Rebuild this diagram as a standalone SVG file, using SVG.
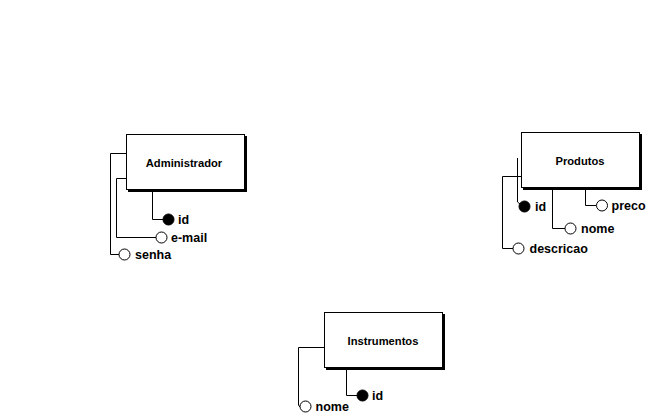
<svg xmlns="http://www.w3.org/2000/svg" width="655" height="419" viewBox="0 0 655 419">
<style>
.box{fill:#fff;stroke:#000;stroke-width:1}
.sh{fill:#000}
.t{font-family:"Liberation Sans",Arial,sans-serif;font-weight:bold;font-size:11.2px;fill:#000}
.a{font-size:12.5px}
.c{text-anchor:middle}
.ln{fill:none;stroke:#000;stroke-width:1}
.o{fill:#fff;stroke:#000;stroke-width:1}
.f{fill:#000;stroke:#000;stroke-width:1}
</style>
<rect width="655" height="419" fill="#fff"/>
<g id="connectors">
<polyline class="ln" points="152.5,190 152.5,219.5 163,219.5"/>
<polyline class="ln" points="126,178.5 116.5,178.5 116.5,237.5 156,237.5"/>
<polyline class="ln" points="126,153.5 110.5,153.5 110.5,254.5 119,254.5"/>
<polyline class="ln" points="517.5,158 517.5,202 520,204"/>
<polyline class="ln" points="552.5,188 552.5,228.5 565,228.5"/>
<polyline class="ln" points="585.5,188 585.5,205.5 596,205.5"/>
<polyline class="ln" points="521,176.5 502.5,176.5 502.5,248.5 513,248.5"/>
<polyline class="ln" points="346.5,368 346.5,395.5 357,395.5"/>
<polyline class="ln" points="324,347.5 298.5,347.5 298.5,405 300,407"/>
</g>
<g id="administrador">
<rect class="sh" x="128" y="136" width="119" height="56"/>
<rect class="box" x="126.5" y="134.5" width="118" height="55"/>
<text class="t c" x="184" y="167">Administrador</text>
</g>
<g id="administrador-id">
<circle class="f" cx="168.5" cy="219.5" r="5.5"/>
<text class="t a" x="178" y="224">id</text>
</g>
<g id="administrador-email">
<circle class="o" cx="161.5" cy="237.5" r="5.5"/>
<text class="t a" x="171" y="242">e-mail</text>
</g>
<g id="administrador-senha">
<circle class="o" cx="124.5" cy="254.5" r="5.5"/>
<text class="t a" x="135" y="259">senha</text>
</g>
<g id="produtos">
<rect class="sh" x="523" y="134" width="119" height="56"/>
<rect class="box" x="521.5" y="132.5" width="118" height="55"/>
<text class="t c" x="580" y="165">Produtos</text>
</g>
<g id="produtos-id">
<circle class="f" cx="524.5" cy="206.5" r="5.5"/>
<text class="t a" x="535" y="211">id</text>
</g>
<g id="produtos-nome">
<circle class="o" cx="570.5" cy="228.5" r="5.5"/>
<text class="t a" x="581" y="233">nome</text>
</g>
<g id="produtos-preco">
<circle class="o" cx="602" cy="205.5" r="5.5"/>
<text class="t a" x="611.5" y="210">preco</text>
</g>
<g id="produtos-descricao">
<circle class="o" cx="518.5" cy="248.5" r="5.5"/>
<text class="t a" x="529.5" y="253">descricao</text>
</g>
<g id="instrumentos">
<rect class="sh" x="326" y="314" width="119" height="56"/>
<rect class="box" x="324.5" y="312.5" width="118" height="55"/>
<text class="t c" x="383" y="345">Instrumentos</text>
</g>
<g id="instrumentos-id">
<circle class="f" cx="362.5" cy="395.5" r="5.5"/>
<text class="t a" x="372" y="400">id</text>
</g>
<g id="instrumentos-nome">
<circle class="o" cx="305.5" cy="406.5" r="5.5"/>
<text class="t a" x="315.5" y="411">nome</text>
</g>
</svg>
